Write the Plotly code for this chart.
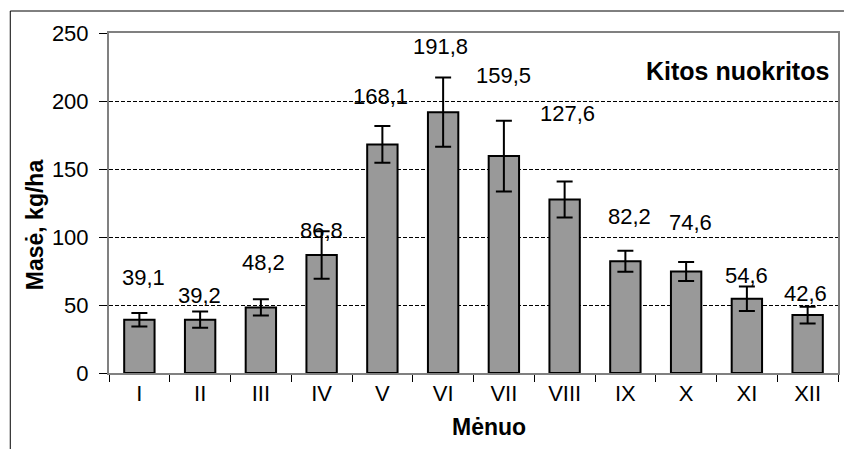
import plotly.graph_objects as go

months = ["I", "II", "III", "IV", "V", "VI", "VII", "VIII", "IX", "X", "XI", "XII"]
values = [39.1, 39.2, 48.2, 86.8, 168.1, 191.8, 159.5, 127.6, 82.2, 74.6, 54.6, 42.6]
errors = [5.0, 6.0, 6.0, 17.5, 13.5, 25.5, 26.0, 13.2, 7.7, 7.0, 9.0, 6.2]
y_ticks = [0, 50, 100, 150, 200, 250]

# positions of the (manually placed) value labels, in data units / px shift
label_y = [70, 57, 81, 105, 203, 240, 218.5, 191, 115, 110.5, 72, 58.6]
label_dx = [4, -1, 3, 0, -2, -3, 0, 3, 4, 4, 0, -2]

W, H = 846, 449
L, R, T, B = 109, 6, 33, 76
pw, ph = W - L - R, H - T - B

def px(x):
    return (x - L) / pw

def py(y):
    return (H - B - y) / ph

FONT = "Liberation Sans, Arial, sans-serif"

fig = go.Figure(go.Bar(
    x=months, y=values,
    marker=dict(color="#999999", line=dict(color="black", width=2)),
    error_y=dict(type="data", array=errors, color="black", thickness=2, width=8),
))

for m, v, ly, dx in zip(months, values, label_y, label_dx):
    fig.add_annotation(x=m, y=ly, text=f"{v:.1f}".replace(".", ","), showarrow=False,
                       xshift=dx, xanchor="center", yanchor="middle",
                       font=dict(family=FONT, size=22, color="black"))

fig.add_annotation(xref="paper", yref="paper", x=px(35), y=py(225), text="<b>Masė, kg/ha</b>",
                   textangle=-90, xanchor="center", yanchor="middle", showarrow=False,
                   font=dict(family=FONT, size=23, color="black"))
fig.add_annotation(xref="paper", yref="paper", x=px(490), y=py(427), text="<b>Mėnuo</b>",
                   xanchor="center", yanchor="middle",
                   showarrow=False, font=dict(family=FONT, size=23, color="black"))
fig.add_annotation(xref="paper", yref="paper", x=px(833), y=py(71), text="<b>Kitos nuokritos</b>",
                   xanchor="right", yanchor="middle", showarrow=False,
                   font=dict(family=FONT, size=25, color="black"))

# outer frame (top and left edges)
fig.add_shape(type="line", xref="paper", yref="paper", x0=px(10), y0=py(11), x1=px(846), y1=py(11),
              line=dict(color="black", width=1))
fig.add_shape(type="line", xref="paper", yref="paper", x0=px(10), y0=py(11), x1=px(10), y1=py(449),
              line=dict(color="black", width=1))

fig.update_layout(
    width=W, height=H,
    margin=dict(l=L, r=R, t=T, b=B),
    paper_bgcolor="white", plot_bgcolor="white",
    showlegend=False, bargap=0.5,
    font=dict(family=FONT, size=22, color="black"),
    xaxis=dict(tickson="boundaries", ticks="outside", ticklen=7, tickcolor="black",
               linecolor="#808080", linewidth=2, mirror=True, showgrid=False,
               tickfont=dict(size=22)),
    yaxis=dict(range=[0, 250], tickvals=y_ticks, ticks="outside", ticklen=8, tickcolor="black",
               linecolor="#808080", linewidth=2, mirror=True, showgrid=True, gridcolor="black",
               gridwidth=1, griddash="4px,2px", zeroline=False, tickfont=dict(size=22),
               ticklabelstandoff=6),
)

fig.write_html("out.html", config={"displayModeBar": False},
               post_script="document.body.style.margin='0';")
